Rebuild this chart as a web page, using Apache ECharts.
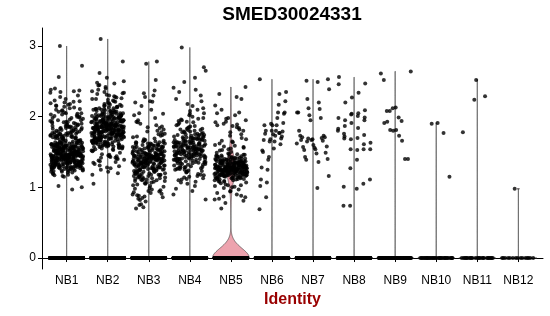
<!DOCTYPE html>
<html><head><meta charset="utf-8">
<script src="https://cdn.jsdelivr.net/npm/echarts@6/dist/echarts.min.js"></script>
<style>html,body{margin:0;padding:0;background:#fff}#c{width:550px;height:316px}</style>
</head><body><div id="c"></div>
<script>
const titleText = 'SMED30024331';
const xAxisTitle = 'Identity';
const categories = ['NB1','NB2','NB3','NB4','NB5','NB6','NB7','NB8','NB9','NB10','NB11','NB12'];
const yTicks = [0, 1, 2, 3];
// number of cells with zero expression per identity
const zeroCounts = [2000, 1800, 1500, 1400, 750, 400, 500, 400, 70, 35, 25, 15];

const NB1 = [
1.45,1.32,1.58,1.21,1.67,1.39,1.51,1.28,1.62,1.44,1.36,1.55,1.25,1.48,1.71,1.33,1.59,1.42,1.27,1.53,
1.38,1.61,1.24,1.49,1.35,1.66,1.43,1.30,1.57,1.46,1.22,1.52,1.40,1.64,1.34,1.47,1.29,1.56,1.41,1.69,
1.50,1.26,1.60,1.37,1.45,1.31,1.54,1.43,1.68,1.23,1.48,1.36,1.58,1.44,1.28,1.63,1.39,1.52,1.33,1.46,
1.41,1.55,1.30,1.47,1.62,1.35,1.49,1.20,1.57,1.44,1.38,1.65,1.26,1.51,1.42,1.34,1.59,1.46,1.32,1.53,
1.47,1.36,1.61,1.29,1.50,1.43,1.70,1.33,1.55,1.40,1.25,1.58,1.45,1.37,1.64,1.31,1.48,1.42,1.56,1.27,
1.39,1.52,1.44,1.66,1.34,1.49,1.23,1.57,1.41,1.46,1.30,1.60,1.38,1.53,1.47,1.35,1.72,1.43,1.28,1.54,
1.44,1.31,1.59,1.40,1.48,1.26,1.63,1.37,1.51,1.45,1.33,1.56,1.42,1.67,1.29,1.50,1.39,1.46,1.58,1.35,
1.52,1.40,1.27,1.55,1.43,1.61,1.36,1.47,1.32,1.54,1.41,1.68,1.24,1.49,1.38,1.57,1.45,1.30,1.62,1.44,
1.48,1.34,1.65,1.42,1.53,1.29,1.46,1.60,1.37,1.50,1.22,1.56,1.43,1.39,1.63,1.33,1.51,1.45,1.28,1.57,
1.43,1.58,1.35,1.49,1.41,1.70,1.31,1.54,1.46,1.27,1.60,1.40,1.52,1.36,1.47,1.64,1.32,1.55,1.44,1.38,
1.56,1.37,1.45,1.62,1.30,1.51,1.42,1.59,1.34,1.48,1.25,1.66,1.43,1.53,1.39,1.46,1.57,1.29,1.50,1.41,
1.35,1.60,1.47,1.33,1.55,1.44,1.28,1.63,1.40,1.52,1.37,1.58,1.45,1.31,1.69,1.42,1.49,1.36,1.61,1.46,
1.49,1.24,1.57,1.43,1.66,1.38,1.50,1.34,1.54,1.47,1.40,1.61,1.30,1.45,1.59,1.35,1.52,1.42,1.73,1.26,
1.40,1.53,1.32,1.58,1.46,1.37,1.64,1.44,1.29,1.55,1.41,1.50,1.21,1.48,1.36,1.62,1.43,1.57,1.33,1.51,
1.78,1.92,1.74,2.05,1.85,1.71,1.98,1.82,1.76,2.02,1.88,1.73,1.95,1.80,2.08,1.77,1.90,1.84,1.72,2.00,
1.86,1.75,2.03,1.81,1.93,1.70,1.87,2.10,1.79,1.96,1.83,1.74,1.91,2.06,1.78,1.89,1.72,1.99,1.85,1.76,
1.94,1.81,1.73,2.01,1.88,1.77,2.07,1.84,1.71,1.97,1.80,1.92,1.75,2.04,1.86,1.79,1.90,1.73,2.09,1.83,
1.76,1.89,2.00,1.74,1.95,1.82,1.78,2.03,1.87,1.71,1.93,1.80,2.11,1.77,1.84,1.98,1.72,1.91,1.85,2.05,
2.15,2.22,2.18,2.35,2.38,2.13,2.20,2.40,2.25,2.16,2.37,2.12,2.28,2.19,2.36,2.14,2.23,2.30,2.17,2.56,2.72,3.00,2.34,2.21,
1.15,1.17,1.12,1.18,1.02,1.00,0.97,1.16,1.19,1.14];

const NB2 = [
1.82,1.65,1.97,1.74,2.08,1.58,1.89,1.71,2.01,1.79,1.52,1.93,1.68,2.14,1.85,1.61,1.99,1.76,1.87,1.70,
1.91,1.55,1.78,2.04,1.66,1.84,1.95,1.62,2.11,1.73,1.88,1.49,1.81,2.02,1.69,1.94,1.77,1.59,2.06,1.86,
1.75,2.00,1.63,1.90,1.83,2.17,1.67,1.80,1.96,1.56,1.88,1.72,2.09,1.64,1.92,1.79,2.03,1.60,1.85,1.98,
1.69,1.87,2.12,1.76,1.54,1.95,1.81,2.05,1.66,1.90,1.74,1.58,2.00,1.84,1.70,2.15,1.78,1.93,1.63,1.86,
1.97,1.73,1.89,1.61,2.07,1.82,1.68,1.94,1.77,2.19,1.57,1.85,2.01,1.71,1.91,1.65,1.83,2.10,1.75,1.88,
1.80,1.62,1.99,1.86,1.72,2.04,1.67,1.92,1.78,1.51,1.96,1.84,2.13,1.70,1.89,1.59,2.02,1.76,1.94,1.81,
1.87,2.06,1.74,1.64,1.93,1.83,2.18,1.69,1.79,1.98,1.56,1.88,1.73,2.08,1.85,1.61,1.95,1.77,2.00,1.66,
1.72,1.90,1.81,2.11,1.60,1.86,1.97,1.75,1.68,2.03,1.84,1.53,1.92,1.78,2.16,1.70,1.89,1.63,1.99,1.82,
1.94,1.67,1.85,1.76,2.05,1.58,1.91,1.80,2.09,1.71,1.87,1.96,1.64,1.83,2.01,1.74,1.55,1.93,1.79,2.12,
1.77,1.98,1.65,1.88,1.82,2.14,1.73,1.90,1.60,2.02,1.85,1.69,1.95,1.78,1.52,2.07,1.84,1.72,1.91,1.86,
1.89,1.61,2.00,1.79,1.70,1.94,1.83,2.10,1.66,1.87,1.76,2.04,1.57,1.92,1.81,1.99,1.68,1.85,2.17,1.74,
1.84,1.71,1.93,2.06,1.63,1.88,1.78,1.97,1.54,1.82,2.13,1.75,1.90,1.67,2.01,1.86,1.73,1.96,1.62,1.80,
1.98,1.75,1.86,1.59,2.08,1.81,1.69,1.93,1.77,2.03,1.64,1.89,1.84,2.15,1.72,1.95,1.80,1.56,1.91,1.87,
1.68,2.02,1.83,1.76,1.94,1.60,1.88,2.11,1.79,1.71,1.97,1.85,1.65,2.05,1.82,1.74,1.90,1.58,2.00,1.78,
2.22,2.35,2.28,2.42,2.25,2.31,2.48,2.20,2.38,2.26,2.45,2.33,2.23,2.50,2.29,2.36,2.21,2.40,2.27,2.55,
2.32,2.24,2.44,2.30,2.62,2.78,3.10,2.34,2.47,2.25,
1.42,1.35,1.44,1.28,1.40,1.22,1.38,1.46,1.31,1.43,1.25,1.39,1.47,1.18,1.36,1.05,1.41,1.33,1.20,1.45,
1.30,1.44,1.37,1.27,1.42];

const NB3 = [
1.35,1.12,1.52,1.28,1.44,1.05,1.61,1.38,1.21,1.47,1.31,1.58,1.15,1.40,1.26,1.66,1.33,1.09,1.49,1.37,
1.24,1.45,1.30,1.62,1.18,1.41,1.53,1.02,1.36,1.27,1.56,1.43,1.14,1.34,1.68,1.22,1.48,1.39,1.07,1.51,
1.42,1.19,1.57,1.32,1.46,1.25,1.64,1.11,1.38,1.29,1.50,1.36,1.16,1.44,1.33,1.60,1.23,1.41,1.04,1.54,
1.30,1.48,1.13,1.37,1.59,1.26,1.43,1.20,1.65,1.34,1.10,1.47,1.39,1.55,1.28,1.42,1.17,1.62,1.35,1.45,
1.53,1.27,1.40,1.08,1.49,1.32,1.67,1.21,1.44,1.36,1.57,1.14,1.38,1.25,1.51,1.43,1.01,1.46,1.31,1.60,
1.37,1.55,1.23,1.45,1.12,1.41,1.63,1.29,1.50,1.34,1.18,1.47,1.40,1.58,1.26,1.33,1.69,1.06,1.42,1.39,
1.46,1.31,1.59,1.16,1.38,1.52,1.24,1.44,1.35,1.61,1.10,1.48,1.29,1.41,1.55,1.20,1.37,1.64,1.33,1.43,
1.28,1.50,1.40,1.15,1.56,1.34,1.45,1.22,1.62,1.39,1.03,1.47,1.32,1.54,1.26,1.42,1.58,1.13,1.36,1.49,
1.41,1.19,1.53,1.37,1.27,1.66,1.44,1.30,1.48,1.11,1.57,1.35,1.23,1.46,1.39,1.60,1.17,1.43,1.32,1.51,
1.34,1.57,1.22,1.45,1.38,1.09,1.52,1.29,1.64,1.40,1.18,1.47,1.36,1.55,1.25,1.42,1.31,1.59,1.14,1.44,
1.48,1.26,1.39,1.61,1.33,1.46,1.20,1.54,1.37,1.43,1.07,1.50,1.30,1.65,1.24,1.41,1.56,1.35,1.19,1.47,
1.72,1.85,1.95,1.78,2.05,1.74,1.90,1.82,2.15,1.76,1.98,1.71,1.88,2.02,1.80,2.20,1.75,1.93,1.84,2.22,
1.73,2.10,1.86,2.21,2.04,2.30,2.33,2.37,2.28,2.52,2.75,2.78,1.79,1.92,
0.95,0.88,0.99,0.82,0.92,0.76,0.97,0.85,0.90,0.72,0.93,0.87,0.98,0.80,0.70,0.94,0.89,0.96,0.84,0.91,0.75,0.86];

const NB4 = [
1.55,1.38,1.72,1.47,1.63,1.29,1.81,1.52,1.41,1.68,1.34,1.59,1.45,1.76,1.25,1.61,1.50,1.87,1.36,1.66,
1.48,1.70,1.32,1.57,1.44,1.83,1.53,1.27,1.65,1.40,1.74,1.58,1.22,1.49,1.62,1.37,1.79,1.54,1.43,1.69,
1.60,1.35,1.77,1.51,1.42,1.67,1.30,1.56,1.85,1.46,1.64,1.24,1.71,1.53,1.39,1.59,1.48,1.80,1.33,1.62,
1.44,1.66,1.52,1.28,1.73,1.58,1.37,1.89,1.50,1.63,1.41,1.57,1.21,1.68,1.46,1.75,1.55,1.31,1.61,1.49,
1.57,1.43,1.78,1.34,1.65,1.51,1.26,1.70,1.47,1.60,1.38,1.84,1.54,1.45,1.67,1.29,1.58,1.72,1.40,1.52,
1.69,1.36,1.54,1.82,1.47,1.23,1.63,1.56,1.42,1.74,1.50,1.32,1.61,1.88,1.45,1.66,1.39,1.57,1.28,1.71,
1.46,1.59,1.33,1.67,1.53,1.76,1.40,1.62,1.27,1.55,1.48,1.81,1.35,1.64,1.51,1.43,1.70,1.58,1.25,1.60,
1.52,1.74,1.41,1.57,1.30,1.68,1.49,1.86,1.44,1.62,1.37,1.55,1.73,1.47,1.22,1.65,1.54,1.39,1.78,1.50,
1.63,1.45,1.58,1.34,1.71,1.53,1.40,1.79,1.48,1.61,1.26,1.56,1.69,1.42,1.83,1.51,1.36,1.64,1.47,1.75,
1.92,2.05,1.95,2.15,1.98,2.22,1.91,2.08,2.30,1.94,2.02,2.18,1.97,2.25,1.93,2.10,2.38,2.41,2.49,2.55,
2.65,2.70,2.98,2.00,2.12,1.96,2.35,2.04,
1.18,1.10,1.15,1.05,1.19,0.98,1.12,1.16,1.08,0.90,1.14,1.02,0.83,1.17,1.11,0.95,1.13,1.07];

const NB5 = [
1.27,1.15,1.36,1.22,1.31,1.09,1.42,1.25,1.19,1.34,1.29,1.12,1.39,1.24,1.47,1.18,1.32,1.26,1.07,1.37,
1.21,1.33,1.28,1.14,1.40,1.23,1.30,1.17,1.45,1.26,1.11,1.35,1.20,1.29,1.38,1.16,1.25,1.43,1.30,1.13,
1.32,1.19,1.26,1.41,1.23,1.08,1.35,1.28,1.16,1.48,1.24,1.31,1.20,1.37,1.14,1.27,1.33,1.22,1.44,1.18,
1.25,1.38,1.12,1.30,1.21,1.46,1.27,1.17,1.34,1.24,1.10,1.39,1.29,1.22,1.36,1.15,1.31,1.26,1.41,1.20,
1.29,1.16,1.34,1.23,1.43,1.19,1.28,1.37,1.13,1.25,1.32,1.21,1.49,1.27,1.18,1.35,1.24,1.06,1.30,1.40,
1.22,1.31,1.26,1.14,1.38,1.28,1.20,1.44,1.25,1.33,1.17,1.29,1.36,1.11,1.23,1.41,1.27,1.19,1.32,1.24,
1.35,1.18,1.28,1.42,1.21,1.30,1.15,1.37,1.26,1.09,1.33,1.23,1.46,1.29,1.19,1.34,1.25,1.39,1.13,1.27,
1.24,1.40,1.20,1.31,1.27,1.16,1.45,1.22,1.35,1.28,1.12,1.38,1.25,1.30,1.18,1.43,1.26,1.21,1.33,1.29,
1.30,1.13,1.37,1.25,1.19,1.41,1.28,1.23,1.34,1.17,1.47,1.26,1.31,1.21,1.36,1.10,1.29,1.24,1.39,1.22,
1.26,1.34,1.18,1.43,1.27,1.22,1.32,1.15,1.38,1.25,1.29,1.20,1.50,1.24,1.35,1.16,1.30,1.42,1.23,1.28,
1.33,1.21,1.28,1.36,1.14,1.25,1.40,1.19,1.31,1.27,1.08,1.37,1.22,1.44,1.26,1.17,1.32,1.24,1.35,1.20,
1.52,1.60,1.55,1.68,1.75,1.58,1.82,1.53,1.88,1.64,1.92,1.57,1.97,1.70,1.85,1.62,2.02,1.78,1.95,1.54,
1.90,2.06,1.66,2.05,1.87,2.16,1.80,1.93,2.25,2.28,2.32,1.59,1.73,2.42,1.98,1.56,1.84,2.10,1.89,1.65,
1.02,0.95,1.04,0.88,0.99,0.84,1.01,0.92,0.86,1.03,0.81,0.97,0.70,0.90,1.00,0.83,0.94,0.78,1.03,0.87];

const NB6 = [2.53,2.35,2.32,2.22,2.17,2.06,2.06,2.04,1.98,1.91,1.88,1.79,1.80,1.72,1.73,1.69,1.65,1.61,1.55,1.77,
1.75,1.77,1.88,1.80,1.80,1.76,1.90,1.88,1.68,1.67,1.65,1.50,1.43,1.52,1.39,1.28,1.25,1.11,1.07,1.02,0.86,0.69];
const NB7 = [2.51,2.53,2.39,2.49,2.20,2.25,2.12,2.06,2.06,2.11,1.98,2.02,1.95,1.80,1.73,1.70,1.66,1.67,1.68,1.67,
1.71,1.73,1.71,1.60,1.56,1.57,1.53,1.49,1.58,1.54,1.48,1.43,1.39,1.40,1.16,0.99,1.36,1.65,1.69,1.62];
const NB8 = [2.56,2.47,2.34,2.27,2.20,2.46,2.09,2.05,2.04,1.95,1.98,1.99,1.84,1.91,1.87,1.83,1.95,2.01,2.03,1.72,
1.80,1.74,1.70,1.68,1.69,1.63,1.61,1.53,1.54,1.76,1.54,1.54,1.39,1.27,1.01,1.11,1.05,0.98,0.74,0.74];
const NB9 = [2.64,2.61,2.52,2.08,2.08,2.12,2.13,1.99,1.94,1.91,1.93,1.81,1.80,1.81,1.73,1.66,1.40,1.40];
const NB10 = [1.90,1.91,1.77,1.15];
const NB11 = [2.52,2.24,2.29,1.78];
const NB12 = [0.98];

const nonZeroValues = [NB1, NB2, NB3, NB4, NB5, NB6, NB7, NB8, NB9, NB10, NB11, NB12];
const violinFill = ['#F8766D','#DE8C00','#B79F00','#7CAE00','#EDA3AE','#00C08B','#00BFC4','#00B4F0','#619CFF','#C77CFF','#F564E3','#FF64B0'];

// ---- violin (ggplot2 geom_violin, scale = "width", bw.nrd0, trimmed) ----
function quantile7(s, q) {
  const h = (s.length - 1) * q, lo = Math.floor(h), hi = Math.min(lo + 1, s.length - 1);
  return s[lo] + (h - lo) * (s[hi] - s[lo]);
}
function violinShape(vals, zeros) {
  const all = new Array(zeros).fill(0).concat(vals).sort((a, b) => a - b);
  const n = all.length;
  const mean = all.reduce((a, b) => a + b, 0) / n;
  const sd = Math.sqrt(all.reduce((a, b) => a + (b - mean) * (b - mean), 0) / (n - 1));
  let iqr = quantile7(all, 0.75) - quantile7(all, 0.25);
  if (iqr < 1.35e-5) iqr = 1.35e-5; // Seurat adds tiny noise to values
  const lo = Math.min(sd, iqr / 1.34);
  const bw = 0.9 * lo * Math.pow(n, -0.2);
  const mn = all[0], mx = all[n - 1];
  const uniq = new Map();
  all.forEach(v => uniq.set(v, (uniq.get(v) || 0) + 1));
  const entries = Array.from(uniq.entries());
  const G = 512, ys = [], ds = [];
  for (let i = 0; i < G; i++) {
    const y = mn + (mx - mn) * i / (G - 1);
    let d = 0;
    for (const [v, w] of entries) { const z = (y - v) / bw; if (Math.abs(z) < 8) d += w * Math.exp(-0.5 * z * z); }
    ys.push(y); ds.push(d);
  }
  const dmax = Math.max(...ds);
  const left = [], right = [];
  for (let i = 0; i < G; i++) {
    const hw = 0.45 * ds[i] / dmax;
    left.push([-hw, ys[i]]);
    right.push([hw, ys[i]]);
  }
  return left.concat(right.reverse());
}
const shapes = nonZeroValues.map((v, i) => violinShape(v, zeroCounts[i]));

// ---- jittered points (deterministic low-discrepancy jitter, width 0.4) ----
const points = [];
let k = 0;
nonZeroValues.forEach((vals, gi) => {
  const list = vals.slice();
  const zs = zeroCounts[gi];
  const merged = [];
  let vi = 0;
  for (let z = 0; z < zs; z++) {
    merged.push(0);
    if (vi < list.length && (z * list.length) / zs >= vi) merged.push(list[vi++]);
  }
  while (vi < list.length) merged.push(list[vi++]);
  merged.forEach(v => {
    const f = (k * 0.6180339887 + 0.31) % 1;
    k++;
    points.push([gi + 1 + (f - 0.5) * 0.8, v]);
  });
});

const FONT = '"Liberation Sans", Arial, Helvetica, sans-serif';
const chart = echarts.init(document.getElementById('c'), null, { renderer: 'canvas' });
chart.setOption({
  animation: false,
  backgroundColor: '#fff',
  grid: { left: 42, right: 7, top: 28, bottom: 47, containLabel: false },
  graphic: [{
    type: 'text', x: 292, y: 15, z: 100,
    style: { text: titleText, fontFamily: FONT, fontSize: 19, fontWeight: 'bold', fill: '#000', align: 'center', verticalAlign: 'middle' }
  }],
  xAxis: {
    type: 'value', min: 0.4, max: 12.6,
    name: xAxisTitle, nameLocation: 'middle', nameGap: 22,
    nameTextStyle: { fontFamily: FONT, fontSize: 16, fontWeight: 'bold', color: '#990000' },
    splitLine: { show: false },
    axisLine: { show: true, lineStyle: { color: '#000', width: 1 } },
    axisTick: { show: true, length: 4, lineStyle: { color: '#000' }, customValues: categories.map((c, i) => i + 1) },
    axisLabel: { customValues: categories.map((c, i) => i + 1), formatter: v => categories[Math.round(v) - 1] || '',
      fontFamily: FONT, fontSize: 12, color: '#000', margin: 6 }
  },
  yAxis: {
    type: 'value', min: -0.155, max: 3.255,
    splitLine: { show: false },
    axisLine: { show: true, lineStyle: { color: '#000', width: 1 } },
    axisTick: { show: true, length: 4, lineStyle: { color: '#000' }, customValues: yTicks },
    axisLabel: { customValues: yTicks, fontFamily: FONT, fontSize: 12, color: '#000', margin: 6 }
  },
  series: [
    {
      type: 'custom', z: 1, silent: true,
      data: categories.map((c, i) => [i + 1, 0]),
      renderItem: (params, api) => {
        const gi = params.dataIndex;
        const pts = shapes[gi].map(p => api.coord([gi + 1 + p[0], p[1]]));
        return { type: 'polygon', shape: { points: pts },
          style: { fill: violinFill[gi], stroke: '#333', lineWidth: 0.6 } };
      }
    },
    {
      type: 'scatter', z: 2, silent: true, progressive: 0, large: false,
      symbol: 'circle', symbolSize: 4,
      itemStyle: { color: '#000' },
      data: points
    }
  ]
});
</script>
</body></html>
